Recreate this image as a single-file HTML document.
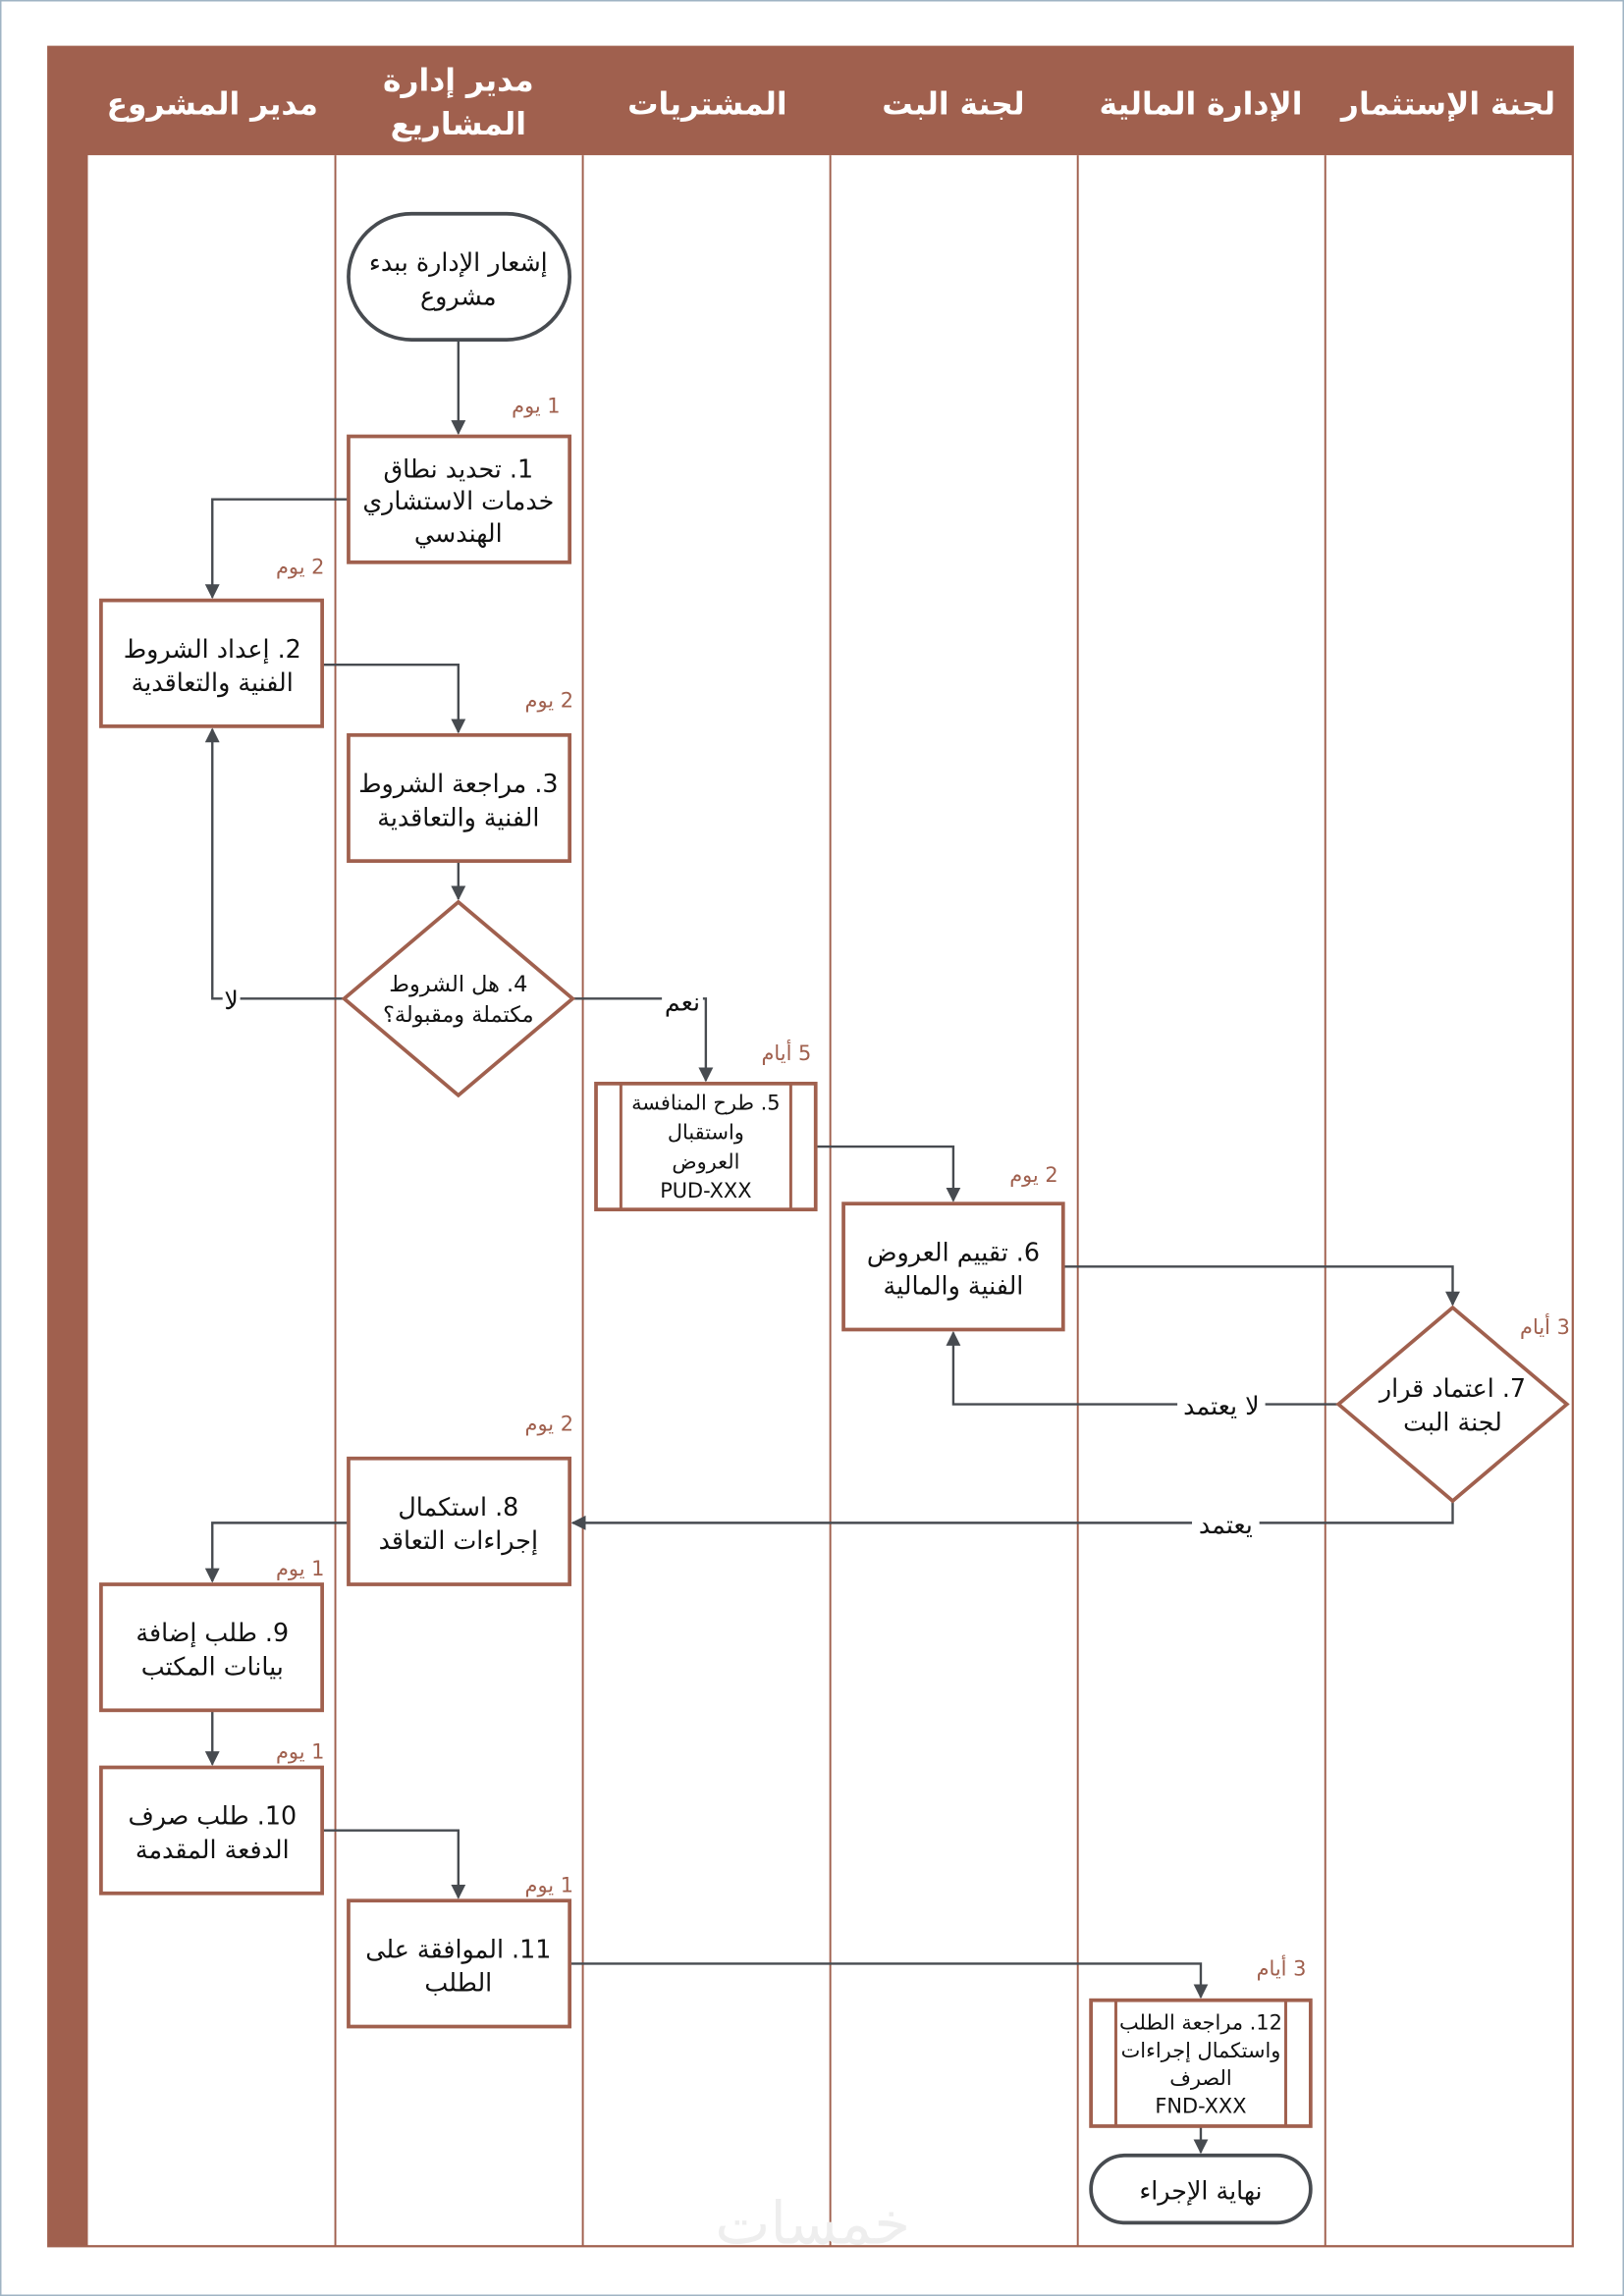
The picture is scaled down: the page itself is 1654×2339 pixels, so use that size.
<!DOCTYPE html>
<html><head><meta charset="utf-8">
<style>
html,body{margin:0;padding:0;background:#fff;}
svg{display:block;}
text{font-family:"DejaVu Sans","Liberation Sans",sans-serif;}
</style></head>
<body>
<svg width="1654" height="2339" viewBox="0 0 1109 1568" preserveAspectRatio="none" xmlns="http://www.w3.org/2000/svg">
<defs>
<marker id="a" markerWidth="10" markerHeight="10" refX="9" refY="5" orient="auto" markerUnits="userSpaceOnUse">
<path d="M0,0 L10,5 L0,10 z" fill="#474b50"/>
</marker>
</defs>
<rect x="0.5" y="0.5" width="1108" height="1567" fill="#fff" stroke="#9fb4c4" stroke-width="1"/>
<rect x="33" y="32" width="1041" height="1502" fill="#fff" stroke="#a0604e" stroke-width="1.5"/>
<rect x="33" y="32" width="1041" height="74" fill="#a0604e"/>
<rect x="33" y="32" width="27" height="1502" fill="#a0604e"/>
<g stroke="#a0604e" stroke-width="1.3">
<line x1="229" y1="106" x2="229" y2="1534"/>
<line x1="398" y1="106" x2="398" y2="1534"/>
<line x1="567" y1="106" x2="567" y2="1534"/>
<line x1="736" y1="106" x2="736" y2="1534"/>
<line x1="905" y1="106" x2="905" y2="1534"/>
</g>
<g fill="#fff" font-size="21" font-weight="bold" text-anchor="middle" direction="rtl">
<text x="145" y="78">مدير المشروع</text>
<text x="313" y="62">مدير إدارة</text>
<text x="313" y="92">المشاريع</text>
<text x="483" y="78">المشتريات</text>
<text x="651" y="78">لجنة البت</text>
<text x="820" y="78">الإدارة المالية</text>
<text x="989" y="78">لجنة الإستثمار</text>
</g>
<g fill="none" stroke="#474b50" stroke-width="1.6">
<polyline points="313,232 313,296" marker-end="url(#a)"/>
<polyline points="238,341 145,341 145,408" marker-end="url(#a)"/>
<polyline points="220,454 313,454 313,500" marker-end="url(#a)"/>
<polyline points="313,588 313,614" marker-end="url(#a)"/>
<polyline points="235,682 145,682 145,498" marker-end="url(#a)"/>
<polyline points="391,682 482,682 482,738" marker-end="url(#a)"/>
<polyline points="557,783 651,783 651,820" marker-end="url(#a)"/>
<polyline points="726,865 992,865 992,891" marker-end="url(#a)"/>
<polyline points="914,959 651,959 651,910" marker-end="url(#a)"/>
<polyline points="992,1025 992,1040 391,1040" marker-end="url(#a)"/>
<polyline points="238,1040 145,1040 145,1080" marker-end="url(#a)"/>
<polyline points="145,1168 145,1205" marker-end="url(#a)"/>
<polyline points="220,1250 313,1250 313,1296" marker-end="url(#a)"/>
<polyline points="389,1341 820,1341 820,1364" marker-end="url(#a)"/>
<polyline points="820,1452 820,1470" marker-end="url(#a)"/>
</g>
<g font-size="17" fill="#111" text-anchor="middle" direction="rtl">
<rect x="152" y="672" width="12" height="20" fill="#fff"/>
<text x="158" y="689">لا</text>
<rect x="452" y="672" width="28" height="20" fill="#fff"/>
<text x="466" y="690">نعم</text>
<rect x="804" y="949" width="60" height="20" fill="#fff"/>
<text x="834" y="966">لا يعتمد</text>
<rect x="814" y="1030" width="46" height="20" fill="#fff"/>
<text x="837" y="1047">يعتمد</text>
</g>
<g fill="#fff" stroke-width="2.5">
<rect x="238" y="146" width="151" height="86" rx="43" stroke="#474b50"/>
<rect x="238" y="298" width="151" height="86" stroke="#a0604e"/>
<rect x="69" y="410" width="151" height="86" stroke="#a0604e"/>
<rect x="238" y="502" width="151" height="86" stroke="#a0604e"/>
<polygon points="313,616 391,682 313,748 235,682" stroke="#a0604e"/>
<rect x="407" y="740" width="150" height="86" stroke="#a0604e"/>
<rect x="576" y="822" width="150" height="86" stroke="#a0604e"/>
<polygon points="992,893 1070,959 992,1025 914,959" stroke="#a0604e"/>
<rect x="238" y="996" width="151" height="86" stroke="#a0604e"/>
<rect x="69" y="1082" width="151" height="86" stroke="#a0604e"/>
<rect x="69" y="1207" width="151" height="86" stroke="#a0604e"/>
<rect x="238" y="1298" width="151" height="86" stroke="#a0604e"/>
<rect x="745" y="1366" width="150" height="86" stroke="#a0604e"/>
<rect x="745" y="1472" width="150" height="46" rx="23" stroke="#474b50"/>
</g>
<g stroke="#a0604e" stroke-width="2">
<line x1="424" y1="740" x2="424" y2="826"/>
<line x1="540" y1="740" x2="540" y2="826"/>
<line x1="762" y1="1366" x2="762" y2="1452"/>
<line x1="878" y1="1366" x2="878" y2="1452"/>
</g>
<g font-size="17" fill="#111" text-anchor="middle" direction="rtl" font-weight="500">
<text x="313" y="185">إشعار الإدارة ببدء</text>
<text x="313" y="208">مشروع</text>
<text x="313" y="326">1. تحديد نطاق</text>
<text x="313" y="348">خدمات الاستشاري</text>
<text x="313" y="370">الهندسي</text>
<text x="145" y="449">2. إعداد الشروط</text>
<text x="145" y="472">الفنية والتعاقدية</text>
<text x="313" y="541">3. مراجعة الشروط</text>
<text x="313" y="564">الفنية والتعاقدية</text>
<text x="313" y="677" font-size="15">4. هل الشروط</text>
<text x="313" y="698" font-size="15">مكتملة ومقبولة؟</text>
<text x="482" y="758" font-size="14">5. طرح المنافسة</text>
<text x="482" y="778" font-size="14">واستقبال</text>
<text x="482" y="798" font-size="14">العروض</text>
<text x="482" y="818" font-size="14">PUD-XXX</text>
<text x="651" y="861">6. تقييم العروض</text>
<text x="651" y="884">الفنية والمالية</text>
<text x="992" y="954">7. اعتماد قرار</text>
<text x="992" y="977">لجنة البت</text>
<text x="313" y="1035">8. استكمال</text>
<text x="313" y="1058">إجراءات التعاقد</text>
<text x="145" y="1121">9. طلب إضافة</text>
<text x="145" y="1144">بيانات المكتب</text>
<text x="145" y="1246">10. طلب صرف</text>
<text x="145" y="1269">الدفعة المقدمة</text>
<text x="313" y="1337">11. الموافقة على</text>
<text x="313" y="1360">الطلب</text>
<text x="820" y="1386" font-size="14">12. مراجعة الطلب</text>
<text x="820" y="1405" font-size="14">واستكمال إجراءات</text>
<text x="820" y="1424" font-size="14">الصرف</text>
<text x="820" y="1443" font-size="14">FND-XXX</text>
<text x="820" y="1502">نهاية الإجراء</text>
</g>
<g font-size="14" fill="#a0604e" text-anchor="middle" direction="rtl">
<text x="366" y="282">1 يوم</text>
<text x="205" y="392">2 يوم</text>
<text x="375" y="483">2 يوم</text>
<text x="537" y="724">5 أيام</text>
<text x="706" y="807">2 يوم</text>
<text x="1055" y="911">3 أيام</text>
<text x="375" y="977">2 يوم</text>
<text x="205" y="1076">1 يوم</text>
<text x="205" y="1201">1 يوم</text>
<text x="375" y="1292">1 يوم</text>
<text x="875" y="1349">3 أيام</text>
</g>
<text x="555" y="1532" font-size="40" fill="#eee" text-anchor="middle" direction="rtl">خمسات</text>
</svg>
</body></html>
